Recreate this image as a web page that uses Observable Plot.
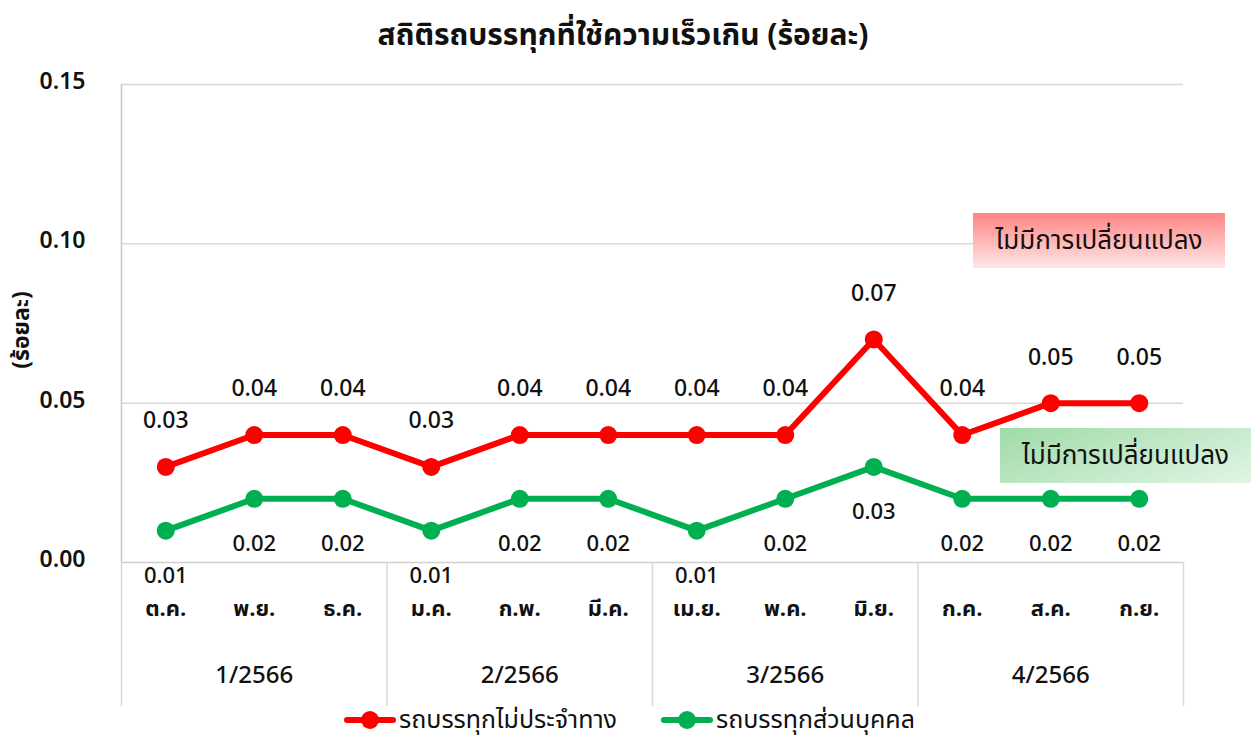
<!DOCTYPE html>
<html>
<head>
<meta charset="utf-8">
<script src="https://cdn.jsdelivr.net/npm/d3@7"></script>
<script src="https://cdn.jsdelivr.net/npm/@observablehq/plot@0.6"></script>
<style>
  html, body { margin: 0; padding: 0; background: #fff; }
  body { font-family: "Noto Sans Thai", "Leelawadee UI", Tahoma, "Noto Sans", "DejaVu Sans", sans-serif; }
  #wrap { position: relative; width: 1259px; height: 740px; overflow: hidden; }
  #title { position: absolute; left: 0; width: 1246px; top: 13px; text-align: center; font-size: 30px; font-weight: bold; color: #111; }
  #chart { position: absolute; left: 0; top: 0; }
  #ylabel { position: absolute; left: 22px; top: 330px; transform: translate(-50%, -50%) rotate(-90deg); font-size: 23px; font-weight: bold; color: #111; white-space: nowrap; }
  .note { position: absolute; display: flex; align-items: center; justify-content: center; font-size: 26px; color: #111; }
  #noteRed { left: 973px; top: 213px; width: 252px; height: 55px; background: linear-gradient(to bottom, #ff8484, #ffe6e6); }
  #noteGreen { left: 1000px; top: 428px; width: 251px; height: 55px; background: linear-gradient(160deg, #9fdba8, #e2f5e5); }
  #legend { position: absolute; left: 0; width: 1259px; top: 706px; height: 28px; display: flex; justify-content: center; align-items: center; gap: 44px; font-size: 25px; line-height: 28px; color: #111; }
  .item { display: flex; align-items: center; gap: 3px; }
</style>
</head>
<body>
<div id="wrap">
  <div id="chart"></div>
  <div id="title"></div>
  <div id="ylabel"></div>
  <div class="note" id="noteRed"></div>
  <div class="note" id="noteGreen"></div>
  <div id="legend"></div>
</div>
<script>
const title = "สถิติรถบรรทุกที่ใช้ความเร็วเกิน (ร้อยละ)";
const yLabel = "(ร้อยละ)";
const months = ["ต.ค.", "พ.ย.", "ธ.ค.", "ม.ค.", "ก.พ.", "มี.ค.", "เม.ย.", "พ.ค.", "มิ.ย.", "ก.ค.", "ส.ค.", "ก.ย."];
const quarters = ["1/2566", "2/2566", "3/2566", "4/2566"];
const seriesNames = ["รถบรรทุกไม่ประจำทาง", "รถบรรทุกส่วนบุคคล"];
const seriesColors = ["#ff0000", "#00b050"];
const redValues = [0.03, 0.04, 0.04, 0.03, 0.04, 0.04, 0.04, 0.04, 0.07, 0.04, 0.05, 0.05];
const greenValues = [0.01, 0.02, 0.02, 0.01, 0.02, 0.02, 0.01, 0.02, 0.03, 0.02, 0.02, 0.02];
const yTicks = [0, 0.05, 0.10, 0.15];
const noteText = "ไม่มีการเปลี่ยนแปลง";

const fmt = d3.format(".2f");
const red = redValues.map((v, i) => ({i, v}));
const green = greenValues.map((v, i) => ({i, v}));
const boundaries = quarters.map((q, k) => k * 3 - 0.5).concat([months.length - 0.5]);
const font = "'Noto Sans Thai', 'Leelawadee UI', Tahoma, 'Noto Sans', 'DejaVu Sans', sans-serif";

const plot = Plot.plot({
  width: 1259,
  height: 710,
  marginTop: 84,
  marginBottom: 148,
  marginLeft: 121,
  marginRight: 76,
  style: {fontFamily: font, color: "#111", background: "transparent"},
  x: {type: "linear", domain: [-0.5, months.length - 0.5], axis: null},
  y: {domain: [0, 0.15], axis: null},
  marks: [
    Plot.gridY(yTicks.slice(1), {stroke: "#d9d9d9", strokeOpacity: 1, strokeWidth: 1.5}),
    Plot.ruleY([0], {stroke: "#d0d0d0", strokeWidth: 1.5}),
    Plot.ruleX([boundaries[0]], {stroke: "#c8c8c8", strokeWidth: 1.5}),
    Plot.axisX({ticks: boundaries, tickSize: 144, tickFormat: () => "", label: null, stroke: "#d9d9d9", strokeWidth: 1.5}),
    Plot.axisY({ticks: yTicks, tickFormat: fmt, tickSize: 0, tickPadding: 36, label: null, fontSize: 23, fontWeight: 600, dy: -3}),
    Plot.text(months, {x: (d, i) => i, frameAnchor: "bottom", dy: 53, fontSize: 22, fontWeight: "bold"}),
    Plot.text(quarters, {x: (d, k) => k * 3 + 1, frameAnchor: "bottom", dy: 120, fontSize: 24, fontWeight: 500}),
    Plot.line(green, {x: "i", y: "v", stroke: seriesColors[1], strokeWidth: 6}),
    Plot.dot(green, {x: "i", y: "v", r: 9, fill: seriesColors[1]}),
    Plot.line(red, {x: "i", y: "v", stroke: seriesColors[0], strokeWidth: 6}),
    Plot.dot(red, {x: "i", y: "v", r: 9, fill: seriesColors[0]}),
    Plot.text(red, {x: "i", y: "v", text: d => fmt(d.v), dy: -46, fontSize: 23, fontWeight: 500}),
    Plot.text(green, {x: "i", y: "v", text: d => fmt(d.v), dy: 45, fontSize: 22, fontWeight: 500})
  ]
});
document.getElementById("chart").appendChild(plot);
document.getElementById("title").textContent = title;
document.getElementById("ylabel").textContent = yLabel;
document.getElementById("noteRed").textContent = noteText;
document.getElementById("noteGreen").textContent = noteText;

const legend = document.getElementById("legend");
seriesNames.forEach((name, k) => {
  const item = document.createElement("div");
  item.className = "item";
  item.innerHTML = `<svg width="52" height="22"><line x1="3" y1="11" x2="49" y2="11" stroke="${seriesColors[k]}" stroke-width="6" stroke-linecap="round"/><circle cx="26" cy="11" r="9" fill="${seriesColors[k]}"/></svg><span>${name}</span>`;
  legend.appendChild(item);
});
</script>
</body>
</html>
